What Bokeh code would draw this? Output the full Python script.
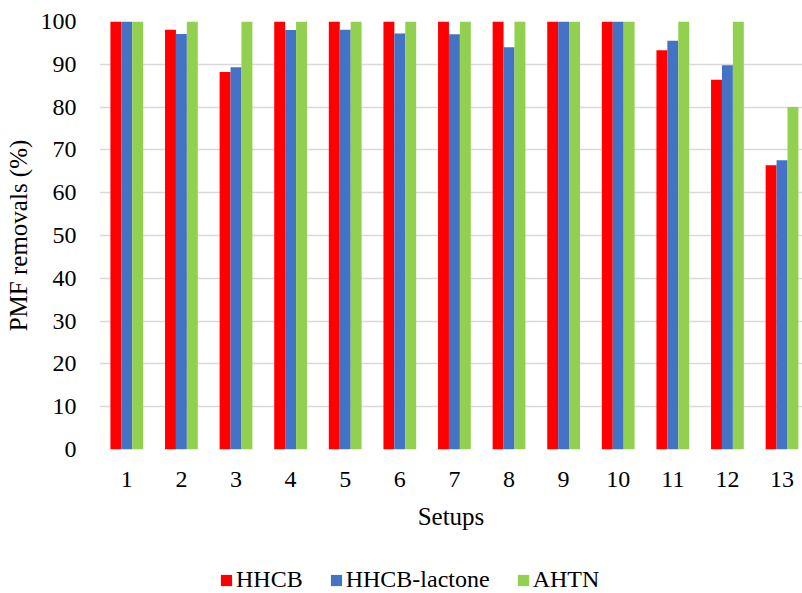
from bokeh.plotting import figure
from bokeh.layouts import column
from bokeh.models import Range1d, FixedTicker, Legend, LegendItem, ColumnDataSource
from bokeh.embed import file_html
from bokeh.resources import INLINE

# PMF removal efficiencies (%) per setup
setups = [1, 2, 3, 4, 5, 6, 7, 8, 9, 10, 11, 12, 13]
hhcb = [100, 98.1, 88.2, 100, 100, 100, 100, 100, 100, 100, 93.3, 86.4, 66.4]
hhcb_lactone = [100, 97.1, 89.3, 98.0, 98.1, 97.2, 97.0, 94.0, 100, 100, 95.5, 89.8, 67.6]
ahtn = [100, 100, 100, 100, 100, 100, 100, 100, 100, 100, 100, 100, 80.0]
y_ticks = [0, 10, 20, 30, 40, 50, 60, 70, 80, 90, 100]

FONT = "Liberation Serif"
series = [("HHCB", hhcb, "#FF0000", -0.2),
          ("HHCB-lactone", hhcb_lactone, "#4472C4", 0.0),
          ("AHTN", ahtn, "#92D050", 0.2)]

p = figure(width=802, height=553, output_backend="svg", toolbar_location=None,
           x_range=Range1d(0.5, 13.375), y_range=Range1d(0, 100))
p.min_border_left = 99
p.min_border_right = 0
p.min_border_top = 21
p.min_border_bottom = 104
p.outline_line_color = None
p.background_fill_color = "white"
p.border_fill_color = "white"

for name, vals, color, off in series:
    src = ColumnDataSource(dict(x=[s + off for s in setups], top=vals))
    p.vbar(x="x", top="top", width=0.2, bottom=0, source=src,
           fill_color=color, line_color=None)

p.xgrid.grid_line_color = None
p.ygrid.grid_line_color = "#d9d9d9"
p.ygrid.grid_line_width = 1.5
p.ygrid.ticker = FixedTicker(ticks=y_ticks)

p.yaxis.ticker = FixedTicker(ticks=y_ticks)
p.xaxis.ticker = FixedTicker(ticks=setups)
for ax in (p.xaxis[0], p.yaxis[0]):
    ax.axis_line_color = None
    ax.major_tick_line_color = None
    ax.minor_tick_line_color = None
    ax.major_label_text_font = FONT
    ax.major_label_text_font_size = "24px"
    ax.major_label_text_color = "black"
    ax.axis_label_text_font = FONT
    ax.axis_label_text_font_size = "25px"
    ax.axis_label_text_font_style = "normal"
    ax.axis_label_text_color = "black"

p.yaxis.axis_label = "PMF removals (%)"
p.yaxis.major_label_standoff = 17
p.yaxis.axis_label_standoff = 6
p.xaxis.axis_label = "Setups"
p.xaxis.major_label_standoff = 16
p.xaxis.axis_label_standoff = 13

# legend strip underneath the chart (its frame lines up with the chart's frame)
leg = figure(width=802, height=40, output_backend="svg", toolbar_location=None,
             x_range=Range1d(0, 1), y_range=Range1d(0, 1))
leg.min_border = 0
leg.outline_line_color = None
leg.axis.visible = False
leg.grid.visible = False

items = []
for name, vals, color, off in series:
    # zero-height swatch renderer, used only for the legend entry
    r = leg.vbar(x=[0.5], top=[0], bottom=[0], width=0.01,
                 fill_color=color, line_color=None)
    items.append(LegendItem(label=name, renderers=[r]))

legend = Legend(items=items, orientation="horizontal", location=(120, 0),
                label_text_font=FONT, label_text_font_size="24px",
                label_text_color="black",
                glyph_width=14, glyph_height=14, label_standoff=3,
                spacing=26, border_line_color=None, background_fill_alpha=0,
                margin=0, padding=0)
leg.add_layout(legend, "center")

open("out.html", "w").write(file_html(column(p, leg, spacing=0), INLINE))
